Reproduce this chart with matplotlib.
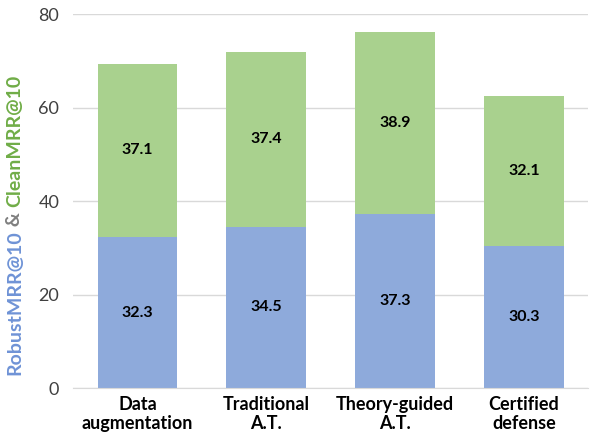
import matplotlib
matplotlib.use("Agg")
import matplotlib.pyplot as plt

plt.rcParams['font.family'] = ['Lato', 'DejaVu Sans']

# data
categories = ["Data\naugmentation", "Traditional\nA.T.", "Theory-guided\nA.T.", "Certified\ndefense"]
robust_mrr = [32.3, 34.5, 37.3, 30.3]
clean_mrr = [37.1, 37.4, 38.9, 32.1]

blue = "#8eaadb"
green = "#a9d18e"

fig = plt.figure(figsize=(5.9, 4.4), dpi=100)
ax = fig.add_axes([0.124, 0.118, 0.873, 0.85])

x = range(len(categories))
ax.bar(x, robust_mrr, width=0.62, color=blue, zorder=2)
ax.bar(x, clean_mrr, width=0.62, bottom=robust_mrr, color=green, zorder=2)

for i in x:
    ax.text(i, robust_mrr[i] / 2, f"{robust_mrr[i]:.1f}", ha='center', va='center',
            fontsize=11.5, fontweight='bold', color='black')
    ax.text(i, robust_mrr[i] + clean_mrr[i] / 2, f"{clean_mrr[i]:.1f}", ha='center', va='center',
            fontsize=11.5, fontweight='bold', color='black')

ax.set_xlim(-0.5, len(categories) - 0.5)
ax.set_ylim(0, 80)
ax.set_yticks([0, 20, 40, 60, 80])
ax.yaxis.grid(True, color='#d9d9d9', linewidth=1, zorder=0)
ax.set_axisbelow(True)
ax.set_xticks(list(x))
ax.set_xticklabels(categories, fontsize=13, fontweight='bold', linespacing=1.1)
ax.tick_params(axis='y', length=0, labelsize=13, labelcolor='#404040', pad=10)
ax.tick_params(axis='x', length=0, pad=6)
for s in ['top', 'right', 'left']:
    ax.spines[s].set_visible(False)
ax.spines['bottom'].set_color('#d9d9d9')

# two-coloured y label
parts = [("RobustMRR@10", "#6f93d6"), (" & ", "#808080"), ("CleanMRR@10", "#70ad47")]
fig.canvas.draw()
renderer = fig.canvas.get_renderer()
texts = []
for s, c in parts:
    t = fig.text(0, 0, s, rotation=90, color=c, fontsize=14, fontweight='bold',
                 ha='center', va='bottom')
    texts.append(t)
heights = [t.get_window_extent(renderer).height for t in texts]
total = sum(heights)
center_px = 440 - 225
y0 = center_px - total / 2
for t, h in zip(texts, heights):
    t.set_position((15 / 590, y0 / 440))
    y0 += h

fig.savefig("out.png", dpi=100)
